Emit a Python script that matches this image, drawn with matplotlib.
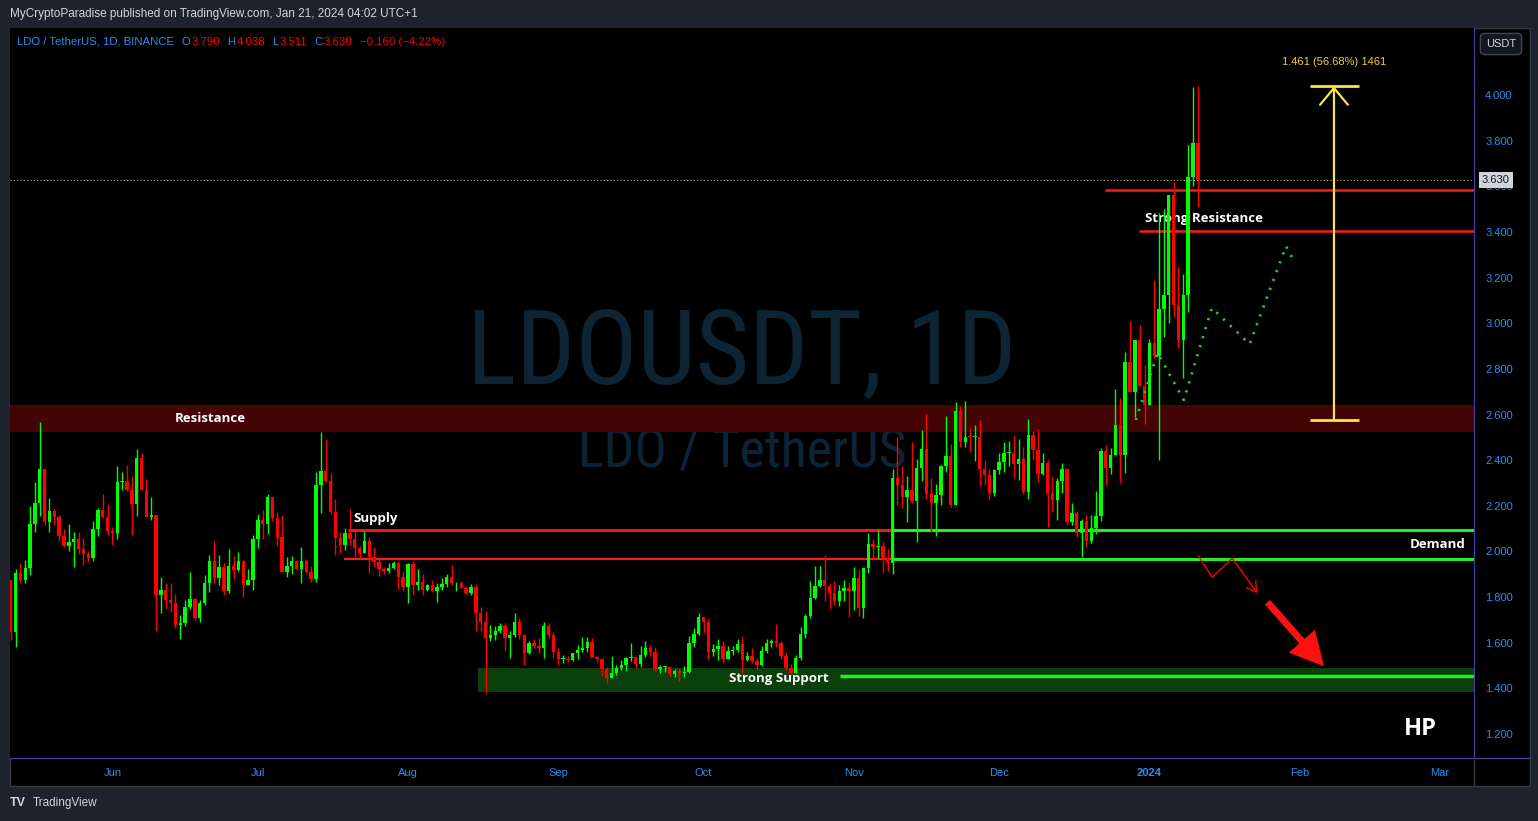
import numpy as np
import matplotlib
matplotlib.use("Agg")
import matplotlib.pyplot as plt
import matplotlib.dates as mdates
from matplotlib import font_manager as fm
from matplotlib.patches import Rectangle, FancyArrowPatch
from matplotlib.lines import Line2D

plt.rcParams['font.family'] = ['Liberation Sans', 'DejaVu Sans']

# ---- data (LDO/USDT daily, BINANCE) ----
first_day = np.datetime64("2023-05-11")
first_open = 1.875

close = [1.647, 1.904, 1.875, 1.926, 2.120, 2.211, 2.360, 2.130, 2.177, 2.150,
         2.068, 2.024, 2.043, 2.053, 2.012, 1.989, 1.971, 2.099, 2.182, 2.150,
         2.091, 2.082, 2.306, 2.310, 2.269, 2.209, 2.408, 2.269, 2.152, 2.158,
         1.809, 1.831, 1.787, 1.773, 1.678, 1.685, 1.755, 1.790, 1.707, 1.773,
         1.860, 1.958, 1.885, 1.933, 1.827, 1.936, 1.919, 1.959, 1.853, 1.875,
         2.054, 2.138, 2.120, 2.237, 2.148, 2.065, 1.911, 1.936, 1.958, 1.922,
         1.958, 1.911, 1.879, 2.291, 2.354, 2.309, 2.174, 2.060, 2.028, 2.079,
         2.053, 2.016, 1.994, 2.046, 1.977, 1.955, 1.923, 1.914, 1.926, 1.948,
         1.889, 1.845, 1.945, 1.853, 1.867, 1.831, 1.853, 1.828, 1.843, 1.857,
         1.887, 1.860, 1.860, 1.841, 1.816, 1.845, 1.729, 1.692, 1.622, 1.634,
         1.651, 1.673, 1.622, 1.634, 1.692, 1.634, 1.556, 1.600, 1.586, 1.578,
         1.673, 1.634, 1.561, 1.529, 1.529, 1.526, 1.553, 1.568, 1.578, 1.602,
         1.539, 1.529, 1.483, 1.447, 1.466, 1.488, 1.502, 1.534, 1.536, 1.509,
         1.546, 1.575, 1.561, 1.483, 1.495, 1.495, 1.463, 1.477, 1.469, 1.473,
         1.597, 1.637, 1.711, 1.692, 1.561, 1.572, 1.586, 1.529, 1.564, 1.568,
         1.594, 1.524, 1.542, 1.520, 1.502, 1.564, 1.600, 1.608, 1.597, 1.542,
         1.490, 1.469, 1.534, 1.638, 1.717, 1.795, 1.849, 1.875, 1.849, 1.816,
         1.784, 1.827, 1.838, 1.828, 1.882, 1.753, 1.926, 2.033, 2.018, 2.024,
         1.966, 1.948, 2.320, 2.291, 2.240, 2.269, 2.222, 2.364, 2.448, 2.254,
         2.213, 2.247, 2.374, 2.418, 2.203, 2.615, 2.478, 2.503, 2.500, 2.500,
         2.361, 2.335, 2.257, 2.357, 2.393, 2.430, 2.430, 2.383, 2.405, 2.262,
         2.510, 2.445, 2.339, 2.386, 2.257, 2.225, 2.309, 2.361, 2.130, 2.167,
         2.082, 2.133, 2.047, 2.101, 2.157, 2.440, 2.367, 2.423, 2.554, 2.423,
         2.829, 2.700, 2.927, 2.725, 2.642, 2.913, 2.856, 3.062, 3.124, 3.562,
         3.080, 2.927, 3.124, 3.639, 3.790, 3.630]

high = [1.880, 1.922, 1.950, 1.962, 2.198, 2.306, 2.566, 2.360, 2.233, 2.185,
        2.160, 2.100, 2.120, 2.087, 2.085, 2.059, 2.000, 2.133, 2.190, 2.252,
        2.207, 2.106, 2.374, 2.348, 2.379, 2.331, 2.448, 2.433, 2.316, 2.237,
        2.158, 1.887, 1.860, 1.863, 1.813, 1.721, 1.787, 1.909, 1.797, 1.787,
        1.897, 1.984, 2.046, 1.984, 1.948, 2.009, 1.980, 1.996, 1.962, 1.923,
        2.072, 2.164, 2.182, 2.252, 2.240, 2.173, 2.160, 1.977, 1.980, 1.962,
        2.021, 1.967, 1.936, 2.349, 2.522, 2.493, 2.342, 2.230, 2.087, 2.104,
        2.186, 2.090, 2.024, 2.090, 2.064, 2.021, 1.965, 1.933, 1.948, 1.958,
        1.959, 1.914, 1.951, 1.959, 1.922, 1.901, 1.856, 1.875, 1.863, 1.885,
        1.901, 1.941, 1.867, 1.870, 1.849, 1.857, 1.857, 1.755, 1.739, 1.678,
        1.673, 1.688, 1.685, 1.651, 1.731, 1.707, 1.638, 1.608, 1.616, 1.622,
        1.689, 1.685, 1.646, 1.576, 1.546, 1.543, 1.556, 1.590, 1.626, 1.626,
        1.619, 1.542, 1.534, 1.495, 1.542, 1.502, 1.524, 1.539, 1.600, 1.539,
        1.586, 1.608, 1.590, 1.580, 1.502, 1.498, 1.498, 1.485, 1.490, 1.498,
        1.629, 1.663, 1.729, 1.714, 1.702, 1.594, 1.615, 1.608, 1.586, 1.586,
        1.615, 1.629, 1.561, 1.578, 1.532, 1.586, 1.615, 1.615, 1.682, 1.608,
        1.561, 1.507, 1.546, 1.668, 1.726, 1.870, 1.936, 1.936, 1.984, 1.856,
        1.870, 1.853, 1.875, 1.867, 1.930, 1.922, 1.929, 2.079, 2.053, 2.094,
        2.043, 2.009, 2.361, 2.500, 2.374, 2.331, 2.478, 2.405, 2.532, 2.602,
        2.320, 2.294, 2.379, 2.594, 2.471, 2.653, 2.637, 2.659, 2.542, 2.554,
        2.576, 2.401, 2.360, 2.361, 2.433, 2.481, 2.484, 2.510, 2.493, 2.459,
        2.580, 2.528, 2.537, 2.430, 2.401, 2.325, 2.320, 2.386, 2.364, 2.211,
        2.177, 2.141, 2.160, 2.160, 2.265, 2.455, 2.466, 2.452, 2.710, 2.672,
        2.873, 3.010, 2.927, 2.992, 2.817, 2.930, 3.189, 3.482, 3.499, 3.562,
        3.618, 3.248, 3.216, 3.781, 4.037, 4.038]

low = [1.612, 1.583, 1.862, 1.863, 1.897, 2.087, 2.155, 2.116, 2.087, 2.116,
       2.047, 2.018, 2.003, 1.933, 1.989, 1.941, 1.955, 1.960, 2.068, 2.145,
       2.072, 2.028, 2.054, 2.269, 2.266, 2.072, 2.155, 2.269, 2.150, 2.138,
       1.653, 1.731, 1.746, 1.736, 1.663, 1.615, 1.673, 1.746, 1.700, 1.692,
       1.765, 1.824, 1.860, 1.853, 1.809, 1.819, 1.878, 1.916, 1.802, 1.853,
       1.831, 2.016, 2.053, 2.076, 2.135, 2.024, 1.911, 1.886, 1.901, 1.919,
       1.863, 1.904, 1.867, 1.867, 2.170, 2.303, 2.164, 1.984, 1.992, 2.006,
       2.028, 1.977, 1.970, 1.994, 1.904, 1.933, 1.893, 1.900, 1.907, 1.923,
       1.835, 1.828, 1.775, 1.809, 1.831, 1.809, 1.827, 1.821, 1.780, 1.831,
       1.845, 1.853, 1.827, 1.838, 1.813, 1.809, 1.653, 1.653, 1.381, 1.608,
       1.612, 1.641, 1.568, 1.534, 1.626, 1.616, 1.502, 1.549, 1.576, 1.556,
       1.534, 1.622, 1.534, 1.502, 1.512, 1.517, 1.520, 1.529, 1.561, 1.561,
       1.536, 1.517, 1.454, 1.425, 1.447, 1.459, 1.480, 1.477, 1.521, 1.490,
       1.495, 1.539, 1.542, 1.476, 1.469, 1.473, 1.451, 1.451, 1.434, 1.451,
       1.466, 1.580, 1.634, 1.644, 1.527, 1.542, 1.524, 1.512, 1.527, 1.546,
       1.561, 1.469, 1.521, 1.512, 1.480, 1.498, 1.553, 1.583, 1.580, 1.529,
       1.480, 1.459, 1.466, 1.524, 1.619, 1.707, 1.792, 1.845, 1.784, 1.746,
       1.765, 1.761, 1.784, 1.714, 1.743, 1.717, 1.710, 1.907, 1.970, 1.970,
       1.904, 1.916, 1.900, 2.203, 2.192, 2.130, 2.213, 2.043, 2.310, 2.232,
       2.087, 2.069, 2.203, 2.349, 2.193, 2.203, 2.459, 2.459, 2.437, 2.398,
       2.288, 2.291, 2.225, 2.243, 2.339, 2.349, 2.374, 2.323, 2.313, 2.252,
       2.230, 2.401, 2.306, 2.335, 2.109, 2.174, 2.138, 2.257, 2.118, 2.116,
       2.065, 1.977, 2.021, 2.038, 2.076, 2.135, 2.291, 2.339, 2.423, 2.301,
       2.344, 2.700, 2.590, 2.725, 2.557, 2.642, 2.850, 2.401, 2.941, 3.002,
       3.026, 2.893, 2.759, 3.050, 3.601, 3.511]

# drawn levels / zones (prices)
resistance_zone = (2.523, 2.642)
supply_top, supply_bottom = 2.094, 1.968
support_zone = (1.384, 1.489)
support_line = 1.454
strong_res_lines = [3.584, 3.404]
measure_low, measure_high = 2.5775, 4.0385

# drawing anchors, in days after first candle
supply_start = [69.6, 68.8]
demand_start = 182.1
support_zone_start, support_line_start = 96.4, 171.1
strong_res_start = [225.8, 232.8]
proj_days = [232.2, 236.7, 242.1, 247.9, 255.7, 263.2, 264.4]
proj_price = [2.576, 2.870, 2.664, 3.067, 2.909, 3.338, 3.290]
zig_days = [245.1, 248.0, 252.1, 257.3]
zig_price = [1.980, 1.887, 1.970, 1.817]
big_arrow_days, big_arrow_price = [259.0, 271.4], [1.787, 1.488]
measure_day, measure_cap = 273.1, (268.1, 278.2)

months = ["2023-06-01", "2023-07-01", "2023-08-01", "2023-09-01", "2023-10-01",
          "2023-11-01", "2023-12-01", "2024-01-01", "2024-02-01", "2024-03-01"]
month_labels = ["Jun", "Jul", "Aug", "Sep", "Oct", "Nov", "Dec", "2024", "Feb", "Mar"]

# ---- colours ----
BG = "#1e222d"
GREEN = "#00ff00"
RED = "#ff0000"
BLUE = "#2a8ef0"
YEL = "#f9e547"
PURPLE = "#4c3d9a"
WM = "#0d2435"

W, H = 1538, 821
fig = plt.figure(figsize=(W / 100, H / 100), dpi=100, facecolor=BG)
renderer = fig.canvas.get_renderer()


def fx(px):
    return px / W


def fy(py):
    return 1 - py / H


fig.add_artist(Rectangle((fx(10), fy(786)), fx(1530) - fx(10), fy(28) - fy(786),
                         transform=fig.transFigure, facecolor="black",
                         edgecolor="#363a45", lw=1, zorder=-1))

ax = fig.add_axes([fx(10), fy(758), fx(1474) - fx(10), fy(28) - fy(758)])
ax.set_facecolor("black")

x0 = mdates.date2num(first_day)
c = np.array(close)
h = np.array(high)
l = np.array(low)
o = np.r_[first_open, c[:-1]]
n = len(c)
x = x0 + np.arange(n)
cols = np.where(c >= o, GREEN, RED)

xmin, xmax = x0 - 0.15, x0 + 302
ax.set_xlim(xmin, xmax)
ax.set_ylim(1.095, 4.294)

# watermark: pick a narrow face if there is one, then size it to the reference width
have = {f.name for f in fm.fontManager.ttflist}
wm_family = next((f for f in ["Liberation Sans Narrow", "Roboto Condensed", "Noto Sans Condensed",
                              "DejaVu Sans Condensed", "Open Sans Condensed"] if f in have),
                 "Liberation Sans")
for txt, yb, size, width in [("LDOUSDT, 1D", 0.5137, 75, 550), ("LDO / TetherUS", 0.40, 38, 328)]:
    t = ax.text(0.5, yb, txt, transform=ax.transAxes, ha="center", va="baseline",
                fontsize=size, color=WM, family=wm_family, zorder=0.5)
    t.set_fontsize(size * width / t.get_window_extent(renderer).width)

# zones
ax.axhspan(*resistance_zone, color="#440404", lw=0, zorder=1)
ax.fill_between([x0 + support_zone_start, xmax], support_zone[0], support_zone[1],
                color="#0b3f0b", lw=0, zorder=1)

# supply / demand lines
ax.hlines(supply_top, x0 + supply_start[0], x0 + demand_start, color="#ff1a1a", lw=2, zorder=2)
ax.hlines(supply_bottom, x0 + supply_start[1], x0 + demand_start, color="#ff1a1a", lw=1.5, zorder=2)
ax.hlines([supply_top, supply_bottom], x0 + demand_start, xmax, color="#22ee22", lw=2.2, zorder=2)
ax.hlines(support_line, x0 + support_line_start, xmax, color="#22ee22", lw=2.5, zorder=2)
for lvl, st in zip(strong_res_lines, strong_res_start):
    ax.hlines(lvl, x0 + st, xmax, color="#ff1a1a", lw=1.8, zorder=2)

# last price dotted line
ax.axhline(c[-1], color="#b2b5be", lw=0.8, ls=(0, (1, 2)), zorder=2.5)

# the text under the last candles sits behind them
lab = dict(color="white", fontsize=9.5, fontweight="bold", family=["Open Sans", "DejaVu Sans"])
ax.text(x0 + 234.1, 3.444, "Strong Resistance", ha="left", va="baseline", zorder=2.8, **lab)

# candles
ax.vlines(x, l, h, colors=cols, lw=1, zorder=3)
ax.bar(x, np.maximum(np.abs(c - o), 0.004), width=0.7, bottom=np.minimum(o, c),
       color=cols, lw=0, zorder=4)

# projection paths
ax.plot(x0 + np.array(proj_days), proj_price, color="#1fd21f", lw=2,
        ls=(0, (0.8, 2.6)), zorder=5)
ax.plot(x0 + np.array(zig_days[:-1]), zig_price[:-1], color=RED, lw=1, zorder=5)
ax.annotate("", xy=(x0 + zig_days[-1], zig_price[-1]), xytext=(x0 + zig_days[-2], zig_price[-2]),
            arrowprops=dict(arrowstyle="->,head_length=0.5,head_width=0.3", color=RED, lw=1,
                            shrinkA=0, shrinkB=0, mutation_scale=14), zorder=5)
ax.add_patch(FancyArrowPatch((x0 + big_arrow_days[0], big_arrow_price[0]),
                             (x0 + big_arrow_days[1], big_arrow_price[1]),
                             arrowstyle="simple,head_length=1.2,head_width=1.25,tail_width=0.25",
                             mutation_scale=20, color="#ff1010", lw=0, zorder=5))

# measure tool
ax.annotate("", xy=(x0 + measure_day, measure_high), xytext=(x0 + measure_day, measure_low),
            arrowprops=dict(arrowstyle="->,head_length=0.6,head_width=0.5", color=YEL, lw=1.6,
                            shrinkA=0, shrinkB=0, mutation_scale=20), zorder=5)
ax.hlines([measure_low, measure_high], x0 + measure_cap[0], x0 + measure_cap[1], color=YEL, lw=2, zorder=5)
move = measure_high - measure_low
ax.text(x0 + measure_day, 4.145, f"{move:.3f} ({move / measure_low * 100:.2f}%) {move * 1000:.0f}",
        ha="center", va="center", fontsize=8, color="#e8d03c", zorder=6)

# labels
ax.text(x0 + 41.1, 2.567, "Resistance", ha="center", va="baseline", zorder=6, **lab)
ax.text(x0 + 70.8, 2.129, "Supply", ha="left", va="baseline", zorder=6, **lab)
ax.text(x0 + 300.3, 2.015, "Demand", ha="right", va="baseline", zorder=6, **lab)
ax.text(x0 + 158.5, 1.428, "Strong Support", ha="center", va="baseline", zorder=6, **lab)
ax.text(x0 + 291.0, 1.196, "HP", ha="center", va="baseline", color="white", fontsize=17,
        fontweight="bold", family=["Open Sans", "DejaVu Sans"], zorder=6)

# axes styling
for s in ["top", "left"]:
    ax.spines[s].set_visible(False)
for s in ["right", "bottom"]:
    ax.spines[s].set_color(PURPLE)
ax.yaxis.tick_right()
ticks = np.round(np.arange(1.2, 4.01, 0.2), 1)
ax.set_yticks(ticks)
ax.set_yticklabels([f"{v:.3f}" for v in ticks])
ax.set_xticks([mdates.date2num(np.datetime64(m)) for m in months])
ax.set_xticklabels(month_labels)
ax.get_xticklabels()[7].set_fontweight("bold")
ax.tick_params(axis="y", length=0, pad=8, labelcolor=BLUE, labelsize=8)
ax.tick_params(axis="x", length=0, pad=7, labelcolor=BLUE, labelsize=8)

fig.add_artist(Line2D([fx(1474), fx(1530)], [fy(758), fy(758)], color=PURPLE, lw=1))
fig.add_artist(Line2D([fx(1474), fx(1474)], [fy(758), fy(786)], color="#363a45", lw=1))

# price tag and currency button
fig.text(fx(1482), fy(180), f"{c[-1]:.3f}", ha="left", va="center", fontsize=8, color="#131722",
         bbox=dict(boxstyle="square,pad=0.3", fc="#d1d4dc", ec="none"), zorder=10)
fig.text(fx(1501), fy(44), "USDT", ha="center", va="center", fontsize=8, color="#d1d4dc",
         bbox=dict(boxstyle="round,pad=0.5,rounding_size=0.35", fc="#131722", ec="#434651", lw=1), zorder=10)

# header texts
fig.text(fx(10), fy(14), "MyCryptoParadise published on TradingView.com, Jan 21, 2024 04:02 UTC+1",
         va="center", fontsize=8.5, color="#d1d4dc")
chg = c[-1] - o[-1]
legend_bits = [(0, "LDO / TetherUS, 1D, BINANCE", BLUE),
               (8, "O", BLUE), (1, f"{o[-1]:.3f}", RED),
               (7, "H", BLUE), (1, f"{h[-1]:.3f}", RED),
               (7, "L", BLUE), (1, f"{l[-1]:.3f}", RED),
               (7, "C", BLUE), (1, f"{c[-1]:.3f}", RED),
               (8, f"\u2212{abs(chg):.3f} (\u2212{abs(chg) / o[-1] * 100:.2f}%)", RED)]
xpos = 17
for gap, txt, col in legend_bits:
    xpos += gap
    t = fig.text(fx(xpos), fy(42), txt, va="center", fontsize=8.2, color=col)
    xpos += t.get_window_extent(renderer).width

fig.text(fx(10), fy(803), "TV", va="center", fontsize=9, fontweight="bold", color="#d1d4dc")
fig.text(fx(33), fy(803), "TradingView", va="center", fontsize=8.5, color="#d1d4dc")

fig.savefig("out.png", dpi=100, facecolor=BG)
